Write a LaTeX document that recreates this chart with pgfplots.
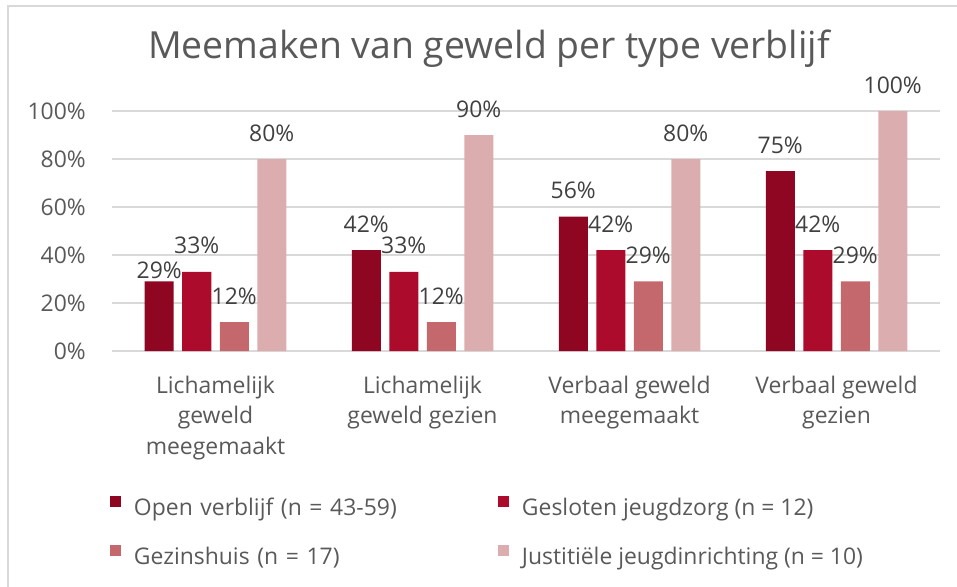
\documentclass[border=0pt]{standalone}
\usepackage{fontspec}
\setmainfont{Open Sans}
\usepackage{pgfplots}
\usepackage{pgfplotstable}
\pgfplotsset{compat=1.18}
\definecolor{c1}{HTML}{8E0622}
\definecolor{c2}{HTML}{AD0B2C}
\definecolor{c3}{HTML}{C4686E}
\definecolor{c4}{HTML}{DCADAF}
\definecolor{txt}{HTML}{595959}
\definecolor{lbl}{HTML}{404040}
\definecolor{gridc}{HTML}{D9D9D9}
% tabular-width digit one, as in the reference rendering
\newcommand{\one}{\makebox[\fontcharwd\font`0][c]{1}}

\pgfplotstableread{
x y s l
0 29 3 29\%
1 42 18 42\%
2 56 18 56\%
3 75 18 75\%
}\openv
\pgfplotstableread{
x y s l
0 33 18 33\%
1 33 18 33\%
2 42 18 42\%
3 42 18 42\%
}\gesloten
\pgfplotstableread{
x y s l
0 12 18 \one2\%
1 12 18 \one2\%
2 29 18 29\%
3 29 18 29\%
}\gezin
\pgfplotstableread{
x y s l
0 80 18 80\%
1 90 18 90\%
2 80 18 80\%
3 100 18 \one00\%
}\jji

\newcommand{\f}{\fontsize{23}{30.5}\selectfont}
\pgfplotsset{
  sqlegend/.style={legend image code/.code={\fill[##1] (0bp,2.5bp) rectangle (11bp,13.5bp);}},
}

\begin{document}
\begin{tikzpicture}
\begin{axis}[
  at={(0,0)}, anchor=south west,
  scale only axis, width=828bp, height=240bp,
  xmin=-0.5, xmax=3.5, ymin=0, ymax=100,
  enlargelimits=false,
  axis line style={draw=none}, tick style={draw=none},
  major tick length=0pt,
  ymajorgrids, grid style={gridc, line width=1.2bp},
  ytick={0,20,40,60,80,100},
  yticklabels={0\%,20\%,40\%,60\%,80\%,\one00\%},
  xtick={0,1,2,3},
  xticklabels={Lichamelijk\\geweld\\meegemaakt, Lichamelijk\\geweld gezien, Verbaal geweld\\meegemaakt, Verbaal geweld\\gezien},
  xticklabel style={align=center, anchor=north, inner sep=0pt, yshift=-25bp, font=\f, text=txt},
  yticklabel style={anchor=east, inner sep=0pt, xshift=-26bp, font=\f, text=txt},
  ybar=8.5bp, bar width=29bp,
  clip=false,
  point meta=explicit symbolic,
  nodes near coords={\pgfplotspointmeta},
  visualization depends on={\thisrow{s} \as \lshift},
  every node near coord/.append style={anchor=base, yshift=\lshift, font=\f, text=lbl, inner sep=0pt},
  legend columns=2,
  legend cell align=left,
  legend style={at={(0,0)}, anchor=north west, xshift=-2bp, yshift=-145bp,
    draw=none, fill=none, inner sep=0pt, outer sep=0pt, font=\f, text=txt,
    row sep=25bp, column sep=13bp,
    nodes={inner sep=0pt, text height=16bp, text depth=5bp},
    /tikz/column 2/.style={text width=351bp}},
]
\addplot[fill=c1, draw=none, sqlegend] table[x=x,y=y,meta=l] {\openv};
\addlegendentry{Open verblijf (n = 43-59)}
\addplot[fill=c2, draw=none, sqlegend] table[x=x,y=y,meta=l] {\gesloten};
\addlegendentry{Gesloten jeugdzorg (n = \one2)}
\addplot[fill=c3, draw=none, sqlegend] table[x=x,y=y,meta=l] {\gezin};
\addlegendentry{Gezinshuis (n = \one7)}
\addplot[fill=c4, draw=none, sqlegend] table[x=x,y=y,meta=l] {\jji};
\addlegendentry{Justitiële jeugdinrichting (n = \one0)}
\end{axis}
\node[anchor=base, font=\fontsize{37.5}{40}\selectfont, text=txt] at (377bp,292bp) {Meemaken van geweld per type verblijf};
\draw[gridc, line width=1.5bp] (-104bp,-236bp) -- (-104bp,345bp) -- (845bp,345bp);
\pgfresetboundingbox
\path[use as bounding box] (-112bp,-236bp) rectangle (845bp,351bp);
\end{tikzpicture}
\end{document}
